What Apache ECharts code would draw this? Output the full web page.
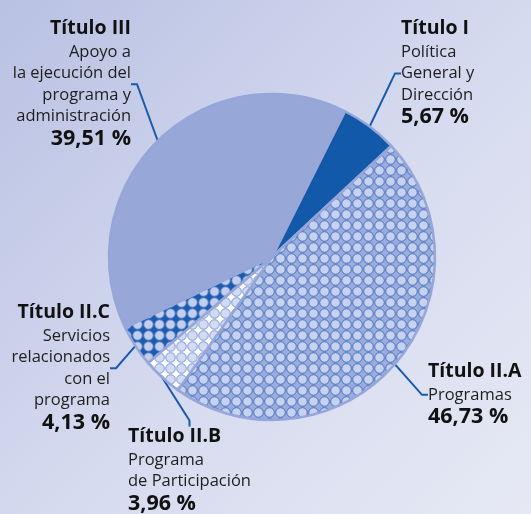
<!DOCTYPE html>
<html>
<head>
<meta charset="utf-8">
<script src="https://cdn.jsdelivr.net/npm/echarts@6/dist/echarts.min.js"></script>
<style>
  html, body { margin: 0; padding: 0; }
  #chart { width: 531px; height: 514px; }
</style>
</head>
<body>
<div id="chart"></div>
<script>
// datos del gráfico (orden horario desde arriba)
var titles = ['Título I', 'Título II.A', 'Título II.B', 'Título II.C', 'Título III'];
var descriptions = [
    ['Política', 'General y', 'Dirección'],
    ['Programas'],
    ['Programa', 'de Participación'],
    ['Servicios', 'relacionados', 'con el', 'programa'],
    ['Apoyo a', 'la ejecución del', 'programa y', 'administración']
];
var percents = [5.67, 46.73, 3.96, 4.13, 39.51];

// posiciones de las etiquetas [x, y, align]
var labelPos = [
    [401, 16, 'left'],
    [428, 359, 'left'],
    [128, 424, 'left'],
    [110, 300, 'right'],
    [131, 16, 'right']
];

function makePattern(gap, circle, stroke) {
    var s = 11;
    var c = document.createElement('canvas');
    c.width = s;
    c.height = s;
    var ctx = c.getContext('2d');
    ctx.fillStyle = gap;
    ctx.fillRect(0, 0, s, s);
    ctx.beginPath();
    ctx.arc(s / 2, s / 2, 4.8, 0, Math.PI * 2);
    ctx.fillStyle = circle;
    ctx.fill();
    ctx.lineWidth = 1;
    ctx.strokeStyle = stroke;
    ctx.stroke();
    return { image: c, repeat: 'repeat' };
}

var fills = [
    '#125aa9',
    makePattern('#9babda', '#c8d1ee', '#4272c3'),
    makePattern('#ffffff', '#d3dbf2', '#7a97d3'),
    makePattern('#1b5cae', '#c3cdec', '#4a78c6'),
    '#97a7d7'
];

function fmt(v) {
    return v.toFixed(2).replace('.', ',') + ' %';
}

var chart = echarts.init(document.getElementById('chart'));

var data = percents.map(function (v, i) {
    return {
        value: v,
        name: titles[i],
        itemStyle: { color: fills[i] },
        label: { align: labelPos[i][2] }
    };
});

chart.setOption({
    backgroundColor: {
        type: 'linear', x: 0, y: 0, x2: 1, y2: 1,
        colorStops: [
            { offset: 0, color: '#b9c1e3' },
            { offset: 0.55, color: '#d6dbef' },
            { offset: 1, color: '#e6e9f4' }
        ]
    },
    series: [{
        type: 'pie',
        center: [272, 257],
        radius: 163,
        startAngle: 63.4,
        clockwise: true,
        silent: true,
        itemStyle: {
            borderColor: '#96a6d9',
            borderWidth: 2.5
        },
        label: {
            show: true,
            position: 'outside',
            overflow: 'none',
            formatter: function (p) {
                var i = p.dataIndex;
                var lines = ['{t|' + titles[i] + '}'];
                descriptions[i].forEach(function (d) {
                    lines.push('{s|' + d + '}');
                });
                lines.push('{p|' + fmt(percents[i]) + '}');
                return lines.join('\n');
            },
            rich: {
                t: { fontFamily: 'Open Sans', fontWeight: 'bold', fontSize: 19.5, color: '#111', lineHeight: 25 },
                s: { fontFamily: 'Open Sans', fontSize: 16.5, color: '#1e1e1e', lineHeight: 21.6 },
                p: { fontFamily: 'Open Sans', fontWeight: 'bold', fontSize: 21.5, color: '#111', lineHeight: 23 }
            }
        },
        labelLine: {
            show: true,
            length: 12,
            length2: 6,
            lineStyle: { color: '#1a5aaa', width: 2 }
        },
        labelLayout: function (params) {
            var p = labelPos[params.dataIndex];
            return { x: p[0], y: p[1], align: p[2], verticalAlign: 'top', hideOverlap: false };
        },
        data: data
    }]
});
</script>
</body>
</html>
